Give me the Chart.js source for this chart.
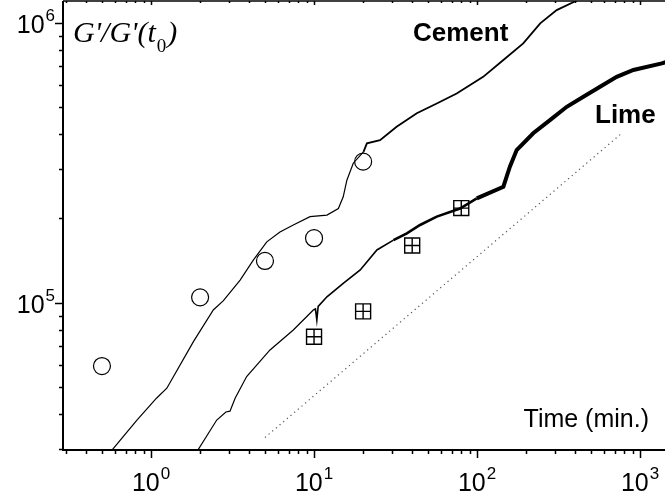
<!DOCTYPE html>
<html>
<head>
<meta charset="utf-8">
<script src="https://cdn.jsdelivr.net/npm/chart.js@4"></script>
<style>
    html, body { margin: 0; padding: 0; background: #fff; }
    #wrap { width: 665px; height: 500px; }
</style>
</head>
<body>
<div id="wrap"><canvas id="modChart" width="665" height="500"></canvas></div>
<script>
// values
const cementTime = [0.55, 0.817, 1.08, 1.25, 1.82, 2.41, 2.78, 3.52, 4.24, 5.13, 6.18, 7.46, 9.45, 12.0, 14.1, 15.1, 15.9, 17.4, 20.1, 21.1, 25.4, 32.1, 42.7, 56.6, 75.0, 109, 145, 192, 244, 308, 409, 560];
const cementG = [28800, 38000, 45600, 49500, 72600, 94200, 101700, 120500, 142000, 165000, 179000, 189500, 203000, 205600, 217000, 239000, 274000, 315000, 346000, 371000, 381000, 425000, 475000, 515000, 559000, 641000, 736000, 844000, 995000, 1110000, 1200000, 1400000];

const limeTime = [1.85, 2.53, 2.88, 3.05, 3.28, 3.86, 5.37, 7.46, 9.90, 10.2, 10.4, 10.6, 12.0, 15.1, 19.2, 24.3, 30.7, 37.1, 44.7, 56.6, 78.6, 99.6, 145, 159, 175, 221, 280, 355, 449, 568, 719, 910, 1360, 1500];
const limeG = [28500, 38100, 40700, 41000, 45600, 54500, 67800, 79900, 94200, 95000, 86700, 97000, 105000, 117300, 130900, 154300, 167400, 177000, 189500, 203000, 217000, 236000, 259600, 306000, 351000, 403000, 449000, 501000, 544000, 591000, 641000, 678000, 716000, 730000];

const cementMarkTime = [0.5, 2, 5, 10, 20];
const cementMarkG = [59400, 104500, 141000, 170000, 319000];

const limeMarkTime = [10, 20, 40, 80];
const limeMarkG = [75600, 93100, 160100, 217800];

const slopeTime = [5, 780];
const slopeG = [33000, 405000];

const xTickExps = [0, 1, 2, 3];
const yTickExps = [5, 6];

const toPoints = (xs, ys) => xs.map((x, i) => ({x: x, y: ys[i]}));

// axes, ticks and labels drawn by hand (ticks outside, superscript labels)
const frame = {
    id: 'frame',
    afterDraw(chart) {
        const ctx = chart.ctx;
        const xs = chart.scales.x, ys = chart.scales.y;
        const a = chart.chartArea;
        ctx.save();
        ctx.strokeStyle = '#000';

        ctx.lineWidth = 2;
        ctx.beginPath();
        ctx.moveTo(a.left, a.top);
        ctx.lineTo(a.left, a.bottom + 1);
        ctx.moveTo(a.left - 1, a.bottom);
        ctx.lineTo(a.right, a.bottom);
        ctx.stroke();
        ctx.lineWidth = 1.5;
        ctx.beginPath();
        ctx.moveTo(a.left, a.top);
        ctx.lineTo(a.right, a.top);
        ctx.stroke();

        ctx.lineWidth = 1.5;
        ctx.beginPath();
        for (let d = -1; d <= 3; d++) {
            for (let m = 1; m <= 9; m++) {
                const v = m * Math.pow(10, d);
                if (v < xs.min || v > xs.max) continue;
                const px = Math.round(xs.getPixelForValue(v)) + 0.5;
                const len = m === 1 ? 8 : 4;
                ctx.moveTo(px, a.bottom);
                ctx.lineTo(px, a.bottom + len);
                ctx.moveTo(px, a.top);
                ctx.lineTo(px, a.top + (m === 1 ? 4 : 2));
            }
        }
        for (let d = 4; d <= 6; d++) {
            for (let m = 1; m <= 9; m++) {
                const v = m * Math.pow(10, d);
                if (v < ys.min || v > ys.max) continue;
                const py = Math.round(ys.getPixelForValue(v)) + 0.5;
                const len = m === 1 ? 8 : 4;
                ctx.moveTo(a.left, py);
                ctx.lineTo(a.left - len, py);
            }
        }
        ctx.stroke();

        ctx.fillStyle = '#000';
        ctx.textBaseline = 'alphabetic';
        ctx.textAlign = 'left';
        const big = '25px "Liberation Sans", Arial, sans-serif';
        const small = '17px "Liberation Sans", Arial, sans-serif';
        const drawPow = (exp, left, base) => {
            ctx.font = big;
            ctx.fillText('10', left, base);
            const w = ctx.measureText('10').width;
            ctx.font = small;
            ctx.fillText(String(exp), left + w + 1, base - 12);
        };
        const powWidth = (exp) => {
            ctx.font = big;
            const w = ctx.measureText('10').width;
            ctx.font = small;
            return w + 1 + ctx.measureText(String(exp)).width;
        };
        xTickExps.forEach(e => {
            const px = xs.getPixelForValue(Math.pow(10, e));
            drawPow(e, px - powWidth(e) / 2, 491);
        });
        yTickExps.forEach(e => {
            const py = ys.getPixelForValue(Math.pow(10, e));
            drawPow(e, 55 - powWidth(e), py + 10);
        });

        // titles and series names
        ctx.font = 'bold 26px "Liberation Sans", Arial, sans-serif';
        ctx.fillText('Cement', 413, 41);
        ctx.fillText('Lime', 595, 123);

        ctx.font = '25px "Liberation Sans", Arial, sans-serif';
        ctx.textAlign = 'right';
        ctx.fillText('Time (min.)', 649, 427);

        ctx.textAlign = 'left';
        ctx.font = 'italic 30px "Liberation Serif", "Times New Roman", serif';
        const t1 = "G'/G'(t";
        ctx.fillText(t1, 73, 42);
        let w1 = ctx.measureText(t1).width;
        ctx.font = '19px "Liberation Serif", "Times New Roman", serif';
        ctx.fillText('0', 73 + w1 + 1, 52);
        const w2 = ctx.measureText('0').width;
        ctx.font = 'italic 30px "Liberation Serif", "Times New Roman", serif';
        ctx.fillText(')', 73 + w1 + w2 + 2, 42);

        ctx.restore();
    }
};

// the measured curves get noisier (thicker) at long times
const limeWidth = c => {
    const t = c.p0.parsed.x;
    if (t < 8) return 1.2;
    if (t < 30) return 1.6;
    if (t < 90) return 2.6;
    return 4;
};
const cementWidth = c => (c.p0.parsed.x < 20 ? 1.2 : 1.8);

new Chart(document.getElementById('modChart'), {
    type: 'line',
    data: {
        datasets: [
            {
                label: 'Cement',
                data: toPoints(cementTime, cementG),
                borderColor: '#000',
                borderWidth: 1.3,
                pointRadius: 0,
                tension: 0,
                segment: { borderWidth: cementWidth }
            },
            {
                label: 'Lime',
                data: toPoints(limeTime, limeG),
                borderColor: '#000',
                borderWidth: 1.3,
                pointRadius: 0,
                tension: 0,
                segment: { borderWidth: limeWidth }
            },
            {
                label: 'slope',
                data: toPoints(slopeTime, slopeG),
                borderColor: '#555',
                borderWidth: 1.2,
                borderDash: [1.2, 3.6],
                pointRadius: 0
            },
            {
                label: 'Cement points',
                data: toPoints(cementMarkTime, cementMarkG),
                showLine: false,
                pointStyle: 'circle',
                pointRadius: 8.5,
                pointBorderWidth: 1.2,
                pointBorderColor: '#000',
                pointBackgroundColor: 'rgba(0,0,0,0)'
            },
            {
                label: 'Lime points',
                data: toPoints(limeMarkTime, limeMarkG),
                showLine: false,
                pointStyle: 'rect',
                pointRadius: 10.6,
                pointBorderWidth: 1.4,
                pointBorderColor: '#000',
                pointBackgroundColor: 'rgba(0,0,0,0)'
            },
            {
                label: 'Lime points cross',
                data: toPoints(limeMarkTime, limeMarkG),
                showLine: false,
                pointStyle: 'cross',
                pointRadius: 7.5,
                pointBorderWidth: 1.4,
                pointBorderColor: '#000'
            }
        ]
    },
    options: {
        responsive: false,
        animation: false,
        layout: { autoPadding: false, padding: { left: 63, right: 0, top: 1, bottom: 50 } },
        plugins: {
            legend: { display: false },
            tooltip: { enabled: false }
        },
        scales: {
            x: {
                type: 'logarithmic',
                display: false,
                bounds: 'data',
                min: 0.2884,
                max: 1422
            },
            y: {
                type: 'logarithmic',
                display: false,
                bounds: 'data',
                min: 29780,
                max: 1196000
            }
        }
    },
    plugins: [frame]
});
</script>
</body>
</html>
